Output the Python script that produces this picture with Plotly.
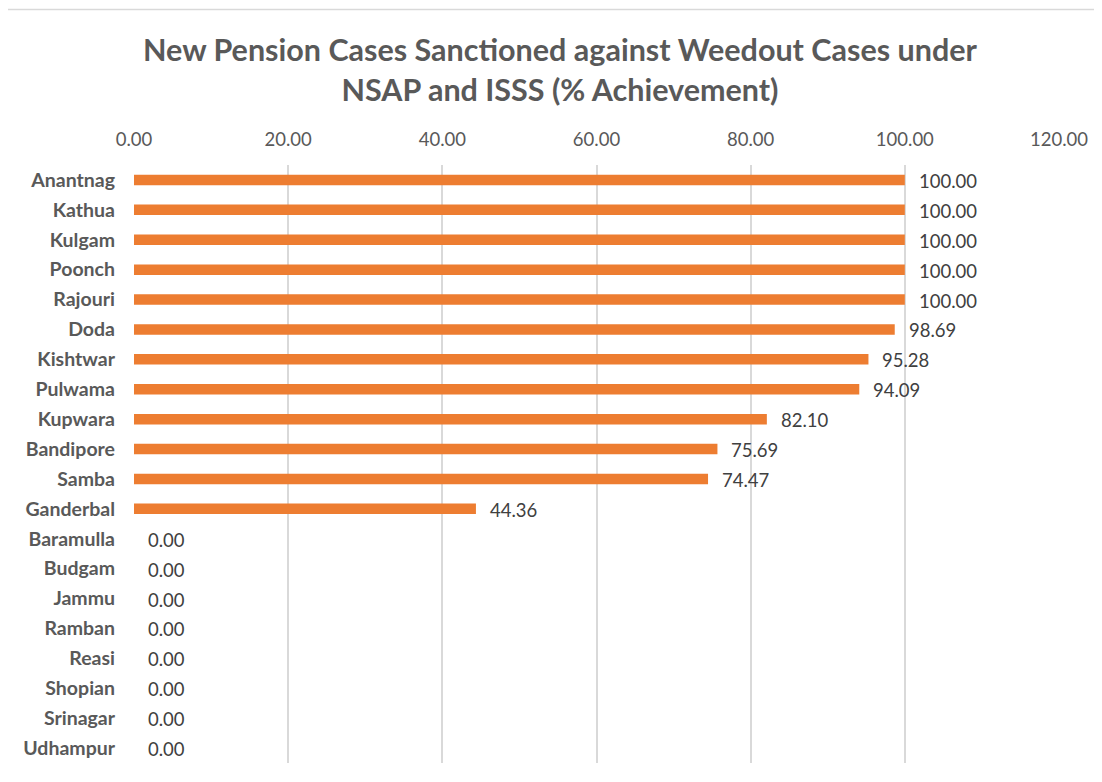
import plotly.graph_objects as go

districts = ["Anantnag", "Kathua", "Kulgam", "Poonch", "Rajouri", "Doda", "Kishtwar",
             "Pulwama", "Kupwara", "Bandipore", "Samba", "Ganderbal", "Baramulla",
             "Budgam", "Jammu", "Ramban", "Reasi", "Shopian", "Srinagar", "Udhampur"]
achievement = [100.00, 100.00, 100.00, 100.00, 100.00, 98.69, 95.28, 94.09, 82.10,
               75.69, 74.47, 44.36, 0.00, 0.00, 0.00, 0.00, 0.00, 0.00, 0.00, 0.00]
x_ticks = [0, 20, 40, 60, 80, 100, 120]

FONT = "Lato"
GREY = "#595959"
BAR = "#ed7d31"

# the page keeps the browser's default 8px body margin, so the figure is
# sized to the visible part of the window and everything is placed 8px up/left
FIG_W, FIG_H = 1094, 774
L, T, W, H = 126, 157, 925, 598

fig = go.Figure()
fig.add_trace(go.Bar(
    x=achievement,
    y=districts,
    orientation="h",
    marker=dict(color=BAR, line=dict(width=0)),
    width=0.35,
    hoverinfo="x+y",
))

# value labels to the right of each bar
for d, v in zip(districts, achievement):
    fig.add_annotation(x=v, y=d, xref="x", yref="y", text=f"{v:.2f}",
                       showarrow=False, xanchor="left", xshift=12, yshift=-1,
                       font=dict(family=FONT, size=18.5, color="#404040"))

# light grey chart border along the top
fig.add_shape(type="line", xref="paper", yref="paper", x0=-L / W, x1=(FIG_W - L) / W,
              y0=(T + H - 1.5) / H, y1=(T + H - 1.5) / H,
              line=dict(color="#d9d9d9", width=1.5))

fig.update_layout(
    width=FIG_W, height=FIG_H,
    margin=dict(l=L, r=FIG_W - L - W, t=T, b=FIG_H - T - H),
    plot_bgcolor="white", paper_bgcolor="white",
    showlegend=False,
    title=dict(
        text="New Pension Cases Sanctioned against Weedout Cases under<br>NSAP and ISSS (% Achievement)",
        x=552 / FIG_W, xanchor="center", xref="container",
        y=1 - 53 / FIG_H, yanchor="middle", yref="container",
        font=dict(family=FONT, size=30.5, color=GREY, weight="bold"),
    ),
    xaxis=dict(
        side="top", range=[0, 120], tickvals=x_ticks, tickformat=".2f",
        showgrid=True, gridcolor="#d9d9d9", gridwidth=1.5,
        zeroline=False, showline=False, ticks="", automargin=False,
        ticklabelstandoff=14,
        tickfont=dict(family=FONT, size=18.5, color=GREY),
    ),
    yaxis=dict(
        categoryorder="array", categoryarray=districts, autorange="reversed",
        showgrid=False, zeroline=False, showline=False, ticks="", automargin=False,
        ticklabelstandoff=18,
        tickfont=dict(family=FONT, size=19.5, color=GREY, weight="bold"),
    ),
)

fig.write_html("out.html")
